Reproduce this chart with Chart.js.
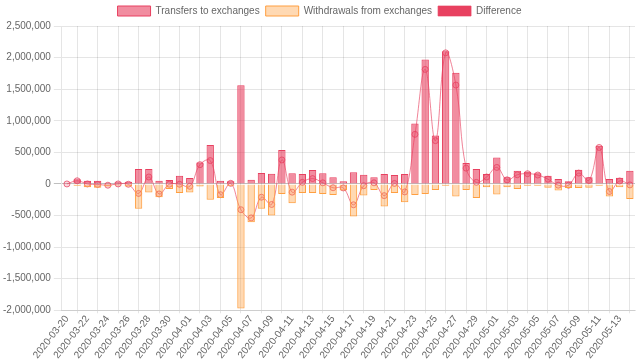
<!DOCTYPE html>
<html>
<head>
<meta charset="utf-8">
<script src="https://cdn.jsdelivr.net/npm/chart.js@4.4.0/dist/chart.umd.min.js"></script>
<style>
  html, body { margin: 0; padding: 0; background: #fff; }
  #wrap { width: 640px; height: 361px; }
</style>
</head>
<body>
<div id="wrap"><canvas id="flows"></canvas></div>
<script>
const dates = [
    '2020-03-20', '2020-03-21', '2020-03-22', '2020-03-23', '2020-03-24', '2020-03-25', '2020-03-26',
    '2020-03-27', '2020-03-28', '2020-03-29', '2020-03-30', '2020-03-31', '2020-04-01', '2020-04-02',
    '2020-04-03', '2020-04-04', '2020-04-05', '2020-04-06', '2020-04-07', '2020-04-08', '2020-04-09',
    '2020-04-10', '2020-04-11', '2020-04-12', '2020-04-13', '2020-04-14', '2020-04-15', '2020-04-16',
    '2020-04-17', '2020-04-18', '2020-04-19', '2020-04-20', '2020-04-21', '2020-04-22', '2020-04-23',
    '2020-04-24', '2020-04-25', '2020-04-26', '2020-04-27', '2020-04-28', '2020-04-29', '2020-04-30',
    '2020-05-01', '2020-05-02', '2020-05-03', '2020-05-04', '2020-05-05', '2020-05-06', '2020-05-07',
    '2020-05-08', '2020-05-09', '2020-05-10', '2020-05-11', '2020-05-12', '2020-05-13', '2020-05-14'
];

const transfers = [
    10000, 75000, 52000, 52000, 16000, 26000, 36000, 237000, 237000, 52000, 63000, 131000, 95000, 340000,
    615000, 52000, 41000, 1561000, 68000, 173000, 162000, 536000, 168000, 158000, 221000, 168000, 105000, 41000,
    184000, 147000, 105000, 158000, 142000, 158000, 956000, 1971000, 765000, 2102000, 1760000, 331000, 237000, 158000,
    420000, 105000, 210000, 194000, 168000, 131000, 79000, 41000, 226000, 105000, 604000, 79000, 100000, 210000
];

const withdrawals = [
    -10000, -27000, -53000, -60000, -42000, -26000, -42000, -394000, -137000, -211000, -79000, -142000, -137000, -42000,
    -252000, -221000, -27000, -1971000, -605000, -394000, -500000, -158000, -305000, -142000, -142000, -158000, -173000, -105000,
    -515000, -184000, -95000, -358000, -142000, -289000, -173000, -158000, -95000, -27000, -200000, -95000, -221000, -53000,
    -168000, -53000, -79000, -27000, -27000, -60000, -105000, -63000, -63000, -60000, -27000, -200000, -53000, -237000
];

const difference = [
    0, 50000, 0, -8000, -20000, 0, -5000, -150000, 110000, -158000, -5000, -5000, -37000, 305000,
    370000, -170000, 10000, -408000, -537000, -210000, -325000, 380000, -130000, 25000, 85000, 18000, -60000, -63000,
    -330000, -28000, 18000, -185000, 8000, -126000, 785000, 1813000, 685000, 2075000, 1565000, 250000, 25000, 110000,
    262000, 65000, 145000, 162000, 141000, 75000, -20000, -20000, 172000, 55000, 577000, -120000, 47000, -15000
];

const FONT = "'Liberation Sans', Arial, sans-serif";
const RED = 'rgb(232, 65, 96)';

Chart.defaults.font.family = FONT;
Chart.defaults.font.size = 10;
Chart.defaults.color = '#666';

const ctx = document.getElementById('flows');

new Chart(ctx, {
    type: 'bar',
    data: {
        labels: dates,
        datasets: [{
            label: 'Transfers to exchanges',
            data: transfers,
            backgroundColor: 'rgba(232, 65, 96, 0.6)',
            borderColor: RED,
            borderWidth: 1
        }, {
            label: 'Withdrawals from exchanges',
            data: withdrawals,
            backgroundColor: 'rgba(255, 159, 64, 0.4)',
            borderColor: 'rgb(255, 159, 64)',
            borderWidth: 1
        }, {
            type: 'line',
            label: 'Difference',
            data: difference,
            backgroundColor: RED,
            borderColor: 'rgba(232, 65, 96, 0.65)',
            borderWidth: 1,
            fill: false,
            tension: 0.4,
            pointRadius: 3,
            pointBorderWidth: 1,
            pointBackgroundColor: 'rgba(232, 65, 96, 0.2)',
            pointBorderColor: 'rgba(232, 65, 96, 0.75)'
        }]
    },
    options: {
        responsive: true,
        maintainAspectRatio: false,
        animation: false,
        layout: {
            padding: { right: 1, left: 0, bottom: 0 }
        },
        plugins: {
            legend: {
                position: 'top',
                labels: {
                    boxWidth: 33,
                    boxHeight: 10,
                    padding: 6,
                    font: { size: 10 }
                }
            },
            tooltip: { enabled: false }
        },
        scales: {
            x: {
                stacked: true,
                ticks: {
                    autoSkip: false,
                    maxRotation: 52,
                    minRotation: 52,
                    padding: 0,
                    callback: function (value, index) {
                        return index % 2 === 0 ? dates[index] : null;
                    }
                },
                grid: {
                    offset: true,
                    tickLength: 3,
                    color: 'rgba(0, 0, 0, 0.1)'
                }
            },
            y: {
                stacked: true,
                min: -2000000,
                max: 2500000,
                ticks: {
                    stepSize: 500000,
                    callback: value => value.toLocaleString('en-US')
                },
                grid: {
                    color: c => c.tick && c.tick.value === 0 ? 'rgba(0, 0, 0, 0.25)' : 'rgba(0, 0, 0, 0.1)'
                }
            }
        }
    }
});
</script>
</body>
</html>
